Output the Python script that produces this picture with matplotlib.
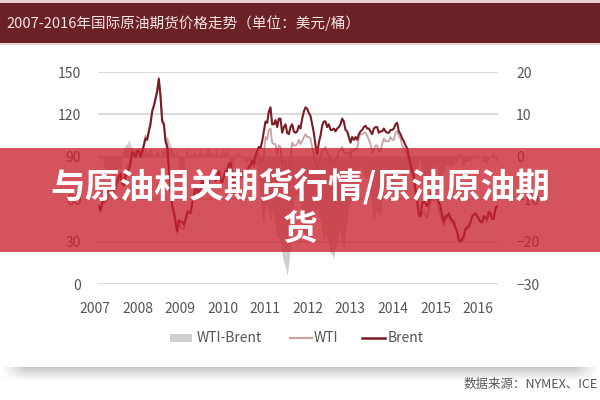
import numpy as np
import matplotlib
matplotlib.use("Agg")
import matplotlib.pyplot as plt
from matplotlib.patches import Rectangle
from matplotlib.lines import Line2D

plt.rcParams['font.family'] = ['Noto Sans CJK SC', 'DejaVu Sans']

# two readings per month, Jan 2007 - Dec 2016 (USD / barrel)
brent = {
    2007: [55, 52, 57, 59, 61, 64, 68, 67, 66, 69, 70, 73, 76, 78, 71, 70, 76, 79, 81, 85, 93, 92, 90, 94],
    2008: [94, 90, 93, 98, 103, 102, 108, 113, 122, 126, 131, 136, 145, 133, 115, 113, 101, 97, 81, 67, 55, 51, 44, 37],
    2009: [45, 44, 44, 42, 45, 50, 51, 50, 57, 61, 69, 68, 62, 67, 73, 71, 67, 68, 72, 76, 78, 77, 73, 76],
    2010: [80, 73, 72, 76, 80, 79, 85, 86, 77, 71, 75, 76, 74, 77, 79, 75, 77, 80, 83, 84, 87, 85, 91, 94],
    2011: [97, 96, 101, 108, 115, 114, 122, 125, 113, 113, 116, 111, 117, 117, 107, 111, 113, 107, 106, 111, 113, 108, 107, 108],
    2012: [112, 110, 117, 122, 125, 124, 121, 119, 113, 107, 98, 92, 100, 105, 112, 115, 115, 111, 113, 109, 109, 110, 108, 110],
    2013: [111, 113, 117, 115, 109, 108, 104, 100, 104, 102, 104, 102, 106, 108, 109, 111, 112, 110, 110, 108, 106, 110, 111, 111],
    2014: [107, 108, 108, 110, 108, 107, 107, 109, 109, 110, 113, 114, 108, 106, 103, 101, 98, 96, 90, 85, 80, 77, 66, 60],
    2015: [49, 48, 57, 59, 57, 55, 58, 63, 66, 64, 63, 62, 58, 55, 49, 44, 48, 48, 50, 47, 45, 44, 40, 37],
    2016: [31, 30, 32, 34, 39, 40, 41, 44, 48, 49, 50, 48, 46, 44, 44, 48, 47, 46, 51, 50, 46, 46, 54, 55],
}
# WTI minus Brent
spread = {
    2007: [0, -1, 1, -2, -3, -4, -4, -3, -4, -5, -4, -3, -2, -3, 1, 2, 3, 3, 4, 3, 2, 2, 1, 0],
    2008: [1, 1, 2, 1, 2, 1, 1, 2, 1, 0, 1, 2, 1, 0, 2, 1, 3, 5, 4, 3, 2, 1, 0, 2],
    2009: [-2, -4, -5, -3, 1, 2, 0, 1, 0, 1, 1, 0, 1, 2, 0, 1, 1, 2, 2, 1, 1, 0, 2, 1],
    2010: [0, 1, 2, 1, 1, 2, 0, -2, -4, -2, 0, 1, 1, 0, -1, 0, -2, -1, -1, -2, -1, -2, -2, -3],
    2011: [-5, -9, -14, -16, -11, -12, -13, -15, -13, -14, -17, -19, -19, -20, -23, -25, -26, -28, -25, -21, -13, -10, -9, -9],
    2012: [-10, -11, -16, -18, -19, -20, -17, -16, -16, -15, -13, -12, -14, -15, -18, -20, -18, -19, -21, -23, -23, -24, -21, -21],
    2013: [-17, -18, -20, -22, -17, -15, -11, -11, -9, -8, -8, -7, -3, -2, -3, -4, -5, -5, -8, -9, -13, -15, -13, -13],
    2014: [-13, -14, -9, -7, -7, -6, -6, -5, -7, -8, -6, -6, -3, -3, -5, -5, -4, -4, -3, -3, -4, -3, -3, -3],
    2015: [-1, 0, -7, -8, -8, -8, -5, -5, -5, -5, -2, -2, -5, -6, -4, -3, -2, -2, -2, -2, -2, -2, -1, -1],
    2016: [1, 1, -2, -2, -1, -1, -1, -1, 0, 0, 0, 1, 0, 0, -1, -1, -1, -2, 0, 0, 1, 1, -1, -1],
}
years = [str(y) for y in range(2007, 2017)]
left_ticks = [0, 30, 60, 90, 120, 150]
right_ticks = [-30, -20, -10, 0, 10, 20]

brent_v = np.concatenate([brent[y] for y in sorted(brent)]).astype(float)
spread_v = np.concatenate([spread[y] for y in sorted(spread)]).astype(float)
wti_v = brent_v + spread_v
t = 2007 + (np.arange(len(brent_v)) + 0.5) / 24

c_brent = '#7a1c25'
c_wti = '#c9a2a2'
c_spread = '#cfcfcf'
c_text = '#555555'

fig = plt.figure(figsize=(6, 4), dpi=100)
fig.patch.set_facecolor('white')

# header band
fig.add_artist(Rectangle((0, 1 - 3 / 400), 1, 3 / 400, transform=fig.transFigure,
                         facecolor='#e9cfd0', edgecolor='none'))
fig.add_artist(Rectangle((0, 1 - 43 / 400), 1, 40 / 400, transform=fig.transFigure,
                         facecolor='#6c2126', edgecolor='none'))
fig.add_artist(Rectangle((0, 1 - 45 / 400), 1, 2 / 400, transform=fig.transFigure,
                         facecolor='#ead3d4', edgecolor='none'))
fig.text(6 / 600, 1 - 23 / 400, '2007-2016年国际原油期货价格走势（单位：美元/桶）',
         color='#f3e6e6', fontsize=10.5, ha='left', va='center')

ax2 = fig.add_axes([98 / 600, 1 - 284 / 400, 400 / 600, 212 / 400])
ax = ax2.twinx()
ax.set_zorder(ax2.get_zorder() + 1)
ax.patch.set_visible(False)

# spread on the right scale
ax2.fill_between(t, 0, spread_v, color=c_spread, linewidth=0, zorder=2)
ax2.set_ylim(-30, 20)
ax2.set_yticks(right_ticks)
ax2.grid(axis='y', color='#d2d2d2', linewidth=1.1)
ax2.set_axisbelow(True)
ax2.yaxis.tick_right()
ax2.tick_params(axis='y', length=0, pad=13, labelsize=10, labelcolor=c_text)

# prices on the left scale
ax.plot(t, wti_v, color=c_wti, linewidth=1.3)
ax.plot(t, brent_v, color=c_brent, linewidth=1.5)
ax.set_ylim(0, 150)
ax.set_yticks(left_ticks)
ax.yaxis.tick_left()
ax.tick_params(axis='y', length=0, pad=12, labelsize=10, labelcolor=c_text)

for a in (ax, ax2):
    a.set_xlim(2007, 2017)
    a.set_xticks([])
    for s in a.spines.values():
        s.set_visible(False)

# year labels, evenly spaced under the plot
for xf, lab in zip(np.linspace(-0.0075, 0.95, len(years)), years):
    ax.text(xf, -25 / 212, lab, transform=ax.transAxes, ha='center', va='center',
            fontsize=10, color=c_text)

# legend
ly = 1 - 338 / 400
fig.add_artist(Rectangle((170 / 600, ly - 4 / 400), 22 / 600, 8 / 400,
                         transform=fig.transFigure, facecolor=c_spread, edgecolor='none'))
fig.text(197 / 600, ly, 'WTI-Brent', fontsize=10, color=c_text, ha='left', va='center')
fig.add_artist(Line2D([290 / 600, 312 / 600], [ly, ly], transform=fig.transFigure,
                      color=c_wti, linewidth=1.6))
fig.text(314 / 600, ly, 'WTI', fontsize=10, color=c_text, ha='left', va='center')
fig.add_artist(Line2D([362 / 600, 385 / 600], [ly, ly], transform=fig.transFigure,
                      color=c_brent, linewidth=1.8))
fig.text(388 / 600, ly, 'Brent', fontsize=10, color=c_text, ha='left', va='center')

# shadow under the card
sh = fig.add_axes([0, 1 - 381 / 400, 1, 14 / 400])
grad = np.linspace(0.78, 1.0, 40)[:, None] * np.ones((1, 200))
edge = np.clip(np.minimum(np.arange(200), np.arange(200)[::-1]) / 8, 0, 1)
grad = 1 - (1 - grad) * edge[None, :]
sh.imshow(grad, cmap='gray', vmin=0, vmax=1, aspect='auto', interpolation='bilinear')
sh.axis('off')

fig.text(598 / 600, 1 - 384 / 400, '数据来源：NYMEX、ICE', fontsize=9, color=c_text,
         ha='right', va='center')

# red banner over the chart
fig.add_artist(Rectangle((0, 1 - 252 / 400), 1, 104 / 400, transform=fig.transFigure,
                         facecolor='#c8222e', edgecolor='none', alpha=0.78, zorder=5))
fig.text(0.5, 1 - 186 / 400, '与原油相关期货行情/原油原油期', fontsize=25, fontweight='bold',
         color='white', ha='center', va='center', zorder=6)
fig.text(0.5, 1 - 229 / 400, '货', fontsize=25, fontweight='bold',
         color='white', ha='center', va='center', zorder=6)

fig.savefig('out.png', dpi=100)
